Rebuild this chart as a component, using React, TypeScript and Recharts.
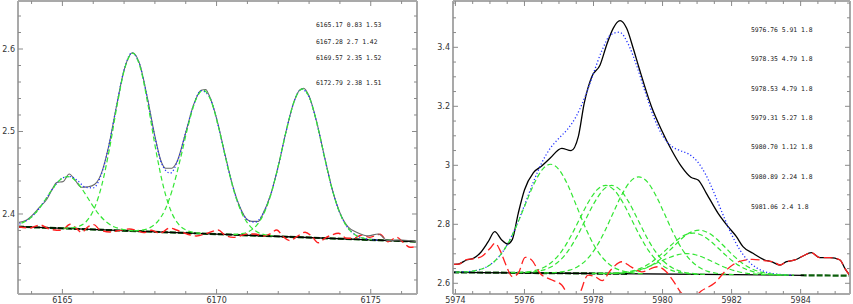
import React from 'react';
import { LineChart, Line, XAxis, YAxis } from 'recharts';

type P = [number, number | null];
const toPts = (a: P[]) => a.map(([x, y]) => ({ x, y }));

// ---------- left panel (6163-6177) ----------
const leftXTicks = [6164, 6165, 6166, 6167, 6168, 6169, 6170, 6171, 6172, 6173, 6174, 6175, 6176];
const leftXLabels = [6165, 6170, 6175];
const leftYTicks = [2.32, 2.34, 2.36, 2.38, 2.4, 2.42, 2.44, 2.46, 2.48, 2.5, 2.52, 2.54, 2.56, 2.58, 2.6, 2.62, 2.64];
const leftYLabels = [2.4, 2.5, 2.6];
const leftNotes = ['6165.17 0.83 1.53', '6167.28 2.7 1.42', '6169.57 2.35 1.52', '6172.79 2.38 1.51'];

const leftObserved: P[] = [
  [6163.56, 2.3895], [6163.84, 2.3927], [6164.27, 2.4085], [6164.49, 2.4175], [6164.7, 2.432],
  [6164.81, 2.438], [6165.03, 2.4395], [6165.22, 2.4485], [6165.41, 2.441], [6165.62, 2.4324],
  [6165.84, 2.433], [6166.05, 2.436], [6166.25, 2.448], [6166.5, 2.482], [6166.75, 2.53],
  [6167.0, 2.5745], [6167.28, 2.5955], [6167.5, 2.5825], [6167.75, 2.542], [6168.0, 2.4945],
  [6168.2, 2.464], [6168.35, 2.4555], [6168.55, 2.4555], [6168.7, 2.462], [6169.0, 2.499],
  [6169.25, 2.532], [6169.5, 2.55], [6169.65, 2.551], [6169.75, 2.5445], [6170.0, 2.516],
  [6170.25, 2.476], [6170.5, 2.4375], [6170.75, 2.409], [6171.0, 2.393], [6171.15, 2.391],
  [6171.35, 2.391], [6171.5, 2.4], [6171.75, 2.423], [6172.0, 2.458], [6172.25, 2.4995],
  [6172.5, 2.535], [6172.7, 2.5505], [6172.82, 2.5525], [6173.0, 2.543], [6173.25, 2.511],
  [6173.5, 2.4695], [6173.75, 2.43], [6174.0, 2.4015], [6174.27, 2.384], [6174.59, 2.377],
  [6174.92, 2.3735], [6175.24, 2.3758], [6175.56, 2.3677], [6176.0, 2.3685], [6176.5, 2.3664],
];

const leftFit: P[] = [
  [6163.5, 2.387], [6163.75, 2.3901], [6164.0, 2.3965], [6164.25, 2.4068], [6164.5, 2.4203],
  [6164.75, 2.434], [6165.0, 2.4437], [6165.25, 2.4454], [6165.5, 2.4401], [6165.75, 2.4324],
  [6166.0, 2.4317], [6166.25, 2.4468], [6166.5, 2.4816], [6166.75, 2.5299], [6167.0, 2.5745],
  [6167.25, 2.5951], [6167.5, 2.5818], [6167.75, 2.541], [6168.0, 2.493], [6168.25, 2.4585],
  [6168.5, 2.4495], [6168.75, 2.4659], [6169.0, 2.4985], [6169.25, 2.5314], [6169.5, 2.5496],
  [6169.75, 2.5433], [6170.0, 2.515], [6170.25, 2.475], [6170.5, 2.4367], [6170.75, 2.4083],
  [6171.0, 2.3929], [6171.25, 2.3901], [6171.5, 2.3999], [6171.75, 2.4227], [6172.0, 2.4578],
  [6172.25, 2.4992], [6172.5, 2.5348], [6172.75, 2.5514], [6173.0, 2.5421], [6173.25, 2.5106],
  [6173.5, 2.4689], [6173.75, 2.4297], [6174.0, 2.401], [6174.25, 2.3835], [6174.5, 2.3747],
  [6174.75, 2.3707], [6175.0, 2.3691], [6175.25, 2.3683],
];

const leftComp1: P[] = [
  [6163.42, 2.3865], [6163.67, 2.3888], [6163.92, 2.394], [6164.17, 2.403], [6164.42, 2.4158],
  [6164.67, 2.4299], [6164.92, 2.4412], [6165.17, 2.4453], [6165.42, 2.4405], [6165.67, 2.4285],
  [6165.92, 2.4137], [6166.17, 2.4002], [6166.42, 2.3905], [6166.67, 2.3846], [6166.92, 2.3816],
  [6167.17, 2.3801], [6167.42, 2.3794],
];
const leftComp2: P[] = [
  [6165.03, 2.3827], [6165.28, 2.3831], [6165.53, 2.385], [6165.78, 2.3912], [6166.03, 2.4063],
  [6166.28, 2.4353], [6166.53, 2.4797], [6166.78, 2.5329], [6167.03, 2.5775], [6167.28, 2.5949],
  [6167.53, 2.5768], [6167.78, 2.5315], [6168.03, 2.4776], [6168.28, 2.4325], [6168.53, 2.4028],
  [6168.78, 2.387], [6169.03, 2.3801], [6169.28, 2.3775], [6169.53, 2.3764],
];
const leftComp3: P[] = [
  [6167.32, 2.3797], [6167.57, 2.3804], [6167.82, 2.383], [6168.07, 2.39], [6168.32, 2.4045],
  [6168.57, 2.43], [6168.82, 2.4658], [6169.07, 2.5057], [6169.32, 2.538], [6169.57, 2.5502],
  [6169.82, 2.5373], [6170.07, 2.5043], [6170.32, 2.4637], [6170.57, 2.4272], [6170.82, 2.401],
  [6171.07, 2.3858], [6171.32, 2.3781], [6171.57, 2.3748], [6171.82, 2.3734],
];
const leftComp4: P[] = [
  [6170.54, 2.3752], [6170.79, 2.376], [6171.04, 2.3786], [6171.29, 2.3859], [6171.54, 2.4009],
  [6171.79, 2.4273], [6172.04, 2.4643], [6172.29, 2.5056], [6172.54, 2.539], [6172.79, 2.5517],
  [6173.04, 2.5383], [6173.29, 2.5042], [6173.54, 2.4622], [6173.79, 2.4245], [6174.04, 2.3974],
  [6174.29, 2.3817], [6174.54, 2.3737], [6174.79, 2.3704], [6175.04, 2.3689],
];

const leftResidual: P[] = [
  [6163.57, 2.3846], [6163.95, 2.383], [6164.27, 2.3867], [6164.6, 2.3815], [6164.98, 2.3802],
  [6165.25, 2.3875], [6165.46, 2.3822], [6165.62, 2.3778], [6165.84, 2.3846], [6166.02, 2.3871],
  [6166.22, 2.3806], [6166.54, 2.3782], [6166.87, 2.3802], [6167.17, 2.3818], [6167.41, 2.3802],
  [6167.64, 2.3774], [6167.89, 2.3802], [6168.16, 2.3766], [6168.49, 2.383], [6168.7, 2.3806],
  [6169.03, 2.3758], [6169.35, 2.3733], [6169.62, 2.3758], [6169.84, 2.3786], [6170.05, 2.3806],
  [6170.27, 2.3745], [6170.54, 2.3717], [6170.76, 2.3733], [6170.97, 2.3758], [6171.24, 2.3758],
  [6171.51, 2.3733], [6171.73, 2.3758], [6171.95, 2.3806], [6172.16, 2.3725], [6172.38, 2.3677],
  [6172.6, 2.3725], [6172.87, 2.3778], [6173.08, 2.3733], [6173.3, 2.3652], [6173.51, 2.3705],
  [6173.73, 2.3745], [6173.95, 2.3766], [6174.22, 2.3705], [6174.44, 2.3705], [6174.71, 2.3745],
  [6174.97, 2.3717], [6175.3, 2.3754], [6175.56, 2.3664], [6175.84, 2.3717], [6176.05, 2.3657],
  [6176.27, 2.3596], [6176.5, 2.3604],
];

const leftContinuum: P[] = [[6163.56, 2.3846], [6176.5, 2.3665]];
const leftDarkGreen: P[] = [[6163.56, 2.3846], [6176.5, 2.3665]];

// ---------- right panel (5974-5985) ----------
const rightXTicks = [5974, 5974.5, 5975, 5975.5, 5976, 5976.5, 5977, 5977.5, 5978, 5978.5, 5979, 5979.5,
  5980, 5980.5, 5981, 5981.5, 5982, 5982.5, 5983, 5983.5, 5984, 5984.5, 5985];
const rightXLabels = [5974, 5976, 5978, 5980, 5982, 5984];
const rightYTicks = [2.6, 2.65, 2.7, 2.75, 2.8, 2.85, 2.9, 2.95, 3, 3.05, 3.1, 3.15, 3.2, 3.25, 3.3, 3.35,
  3.4, 3.45, 3.5, 3.55];
const rightYLabels = [2.6, 2.8, 3, 3.2, 3.4];
const rightNotes = ['5976.76 5.91 1.8', '5978.35 4.79 1.8', '5978.53 4.79 1.8', '5979.31 5.27 1.8',
  '5980.70 1.12 1.8', '5980.89 2.24 1.8', '5981.06 2.4 1.8'];

const rightObserved: P[] = [
  [5973.94, 2.6644], [5974.08, 2.665], [5974.32, 2.679], [5974.52, 2.6847], [5974.71, 2.7017],
  [5974.95, 2.741], [5975.14, 2.775], [5975.34, 2.7468], [5975.51, 2.7332], [5975.65, 2.749],
  [5975.82, 2.8373], [5976.0, 2.9163], [5976.26, 2.975], [5976.5, 2.9976], [5976.74, 3.0237],
  [5977.08, 3.0576], [5977.35, 3.0495], [5977.56, 3.097], [5977.73, 3.2102], [5977.95, 3.3003],
  [5978.19, 3.34], [5978.38, 3.4078], [5978.57, 3.4644], [5978.77, 3.4902], [5978.96, 3.4644],
  [5979.15, 3.3966], [5979.32, 3.33], [5979.68, 3.1986], [5979.97, 3.1197], [5980.26, 3.0519],
  [5980.55, 2.9953], [5980.82, 2.9593], [5981.03, 2.9502], [5981.27, 2.9051], [5981.61, 2.8373],
  [5981.9, 2.7919], [5982.14, 2.758], [5982.33, 2.7241], [5982.62, 2.7017], [5982.96, 2.679],
  [5983.15, 2.6732], [5983.4, 2.662], [5983.59, 2.6732], [5983.83, 2.679], [5984.07, 2.6925],
  [5984.31, 2.7037], [5984.56, 2.6868], [5984.85, 2.6868], [5985.14, 2.679], [5985.28, 2.6508],
  [5985.43, 2.6258],
];

const rightFit: P[] = [
  [5974.0, 2.6378], [5974.25, 2.6387], [5974.5, 2.6414], [5974.75, 2.6481], [5975.0, 2.6622],
  [5975.25, 2.6884], [5975.5, 2.7308], [5975.75, 2.7909], [5976.0, 2.864], [5976.25, 2.9408],
  [5976.5, 3.0083], [5976.75, 3.058], [5977.0, 3.092], [5977.25, 3.1227], [5977.5, 3.1662],
  [5977.75, 3.2312], [5978.0, 3.3121], [5978.25, 3.3908], [5978.5, 3.4426], [5978.75, 3.4512],
  [5979.0, 3.4125], [5979.25, 3.3378], [5979.5, 3.2472], [5979.75, 3.1624], [5980.0, 3.1006],
  [5980.25, 3.0657], [5980.5, 3.0503], [5980.75, 3.0384], [5981.0, 3.014], [5981.25, 2.9686],
  [5981.5, 2.9046], [5981.75, 2.8328], [5982.0, 2.7655], [5982.25, 2.7115], [5982.5, 2.6737],
  [5982.75, 2.6506], [5983.0, 2.6381], [5983.25, 2.632], [5983.5, 2.6291], [5983.75, 2.6279],
];

const rightComp1: P[] = [
  [5974.01, 2.6378], [5974.26, 2.6387], [5974.51, 2.6415], [5974.76, 2.6485], [5975.01, 2.663],
  [5975.26, 2.6899], [5975.51, 2.7324], [5975.76, 2.7923], [5976.01, 2.8632], [5976.26, 2.9328],
  [5976.51, 2.9845], [5976.76, 3.0035], [5977.01, 2.984], [5977.26, 2.9318], [5977.51, 2.8617],
  [5977.76, 2.7903], [5978.01, 2.7299], [5978.26, 2.6869], [5978.51, 2.6595], [5978.76, 2.6445],
  [5979.01, 2.637], [5979.26, 2.6337], [5979.51, 2.6323],
];
const rightComp2: P[] = [
  [5975.6, 2.636], [5975.85, 2.6368], [5976.1, 2.639], [5976.35, 2.6446], [5976.6, 2.6563],
  [5976.85, 2.6781], [5977.1, 2.7124], [5977.35, 2.761], [5977.6, 2.8184], [5977.85, 2.8747],
  [5978.1, 2.9166], [5978.35, 2.9319], [5978.6, 2.9161], [5978.85, 2.8737], [5979.1, 2.8169],
  [5979.35, 2.759], [5979.6, 2.7099], [5979.85, 2.6751], [5980.1, 2.6528], [5980.35, 2.6406],
  [5980.6, 2.6345], [5980.85, 2.6318], [5981.1, 2.6305],
];
const rightComp3: P[] = [
  [5975.78, 2.6359], [5976.03, 2.6366], [5976.28, 2.6389], [5976.53, 2.6444], [5976.78, 2.6562],
  [5977.03, 2.6779], [5977.28, 2.7123], [5977.53, 2.7608], [5977.78, 2.8183], [5978.03, 2.8745],
  [5978.28, 2.9165], [5978.53, 2.9317], [5978.78, 2.916], [5979.03, 2.8735], [5979.28, 2.8168],
  [5979.53, 2.7588], [5979.78, 2.7098], [5980.03, 2.6749], [5980.28, 2.6527], [5980.53, 2.6404],
  [5980.78, 2.6344], [5981.03, 2.6316], [5981.28, 2.6304],
];
const rightComp4: P[] = [
  [5976.56, 2.6352], [5976.81, 2.6359], [5977.06, 2.6385], [5977.31, 2.6446], [5977.56, 2.6576],
  [5977.81, 2.6814], [5978.06, 2.7194], [5978.31, 2.7727], [5978.56, 2.836], [5978.81, 2.8979],
  [5979.06, 2.9441], [5979.31, 2.9609], [5979.56, 2.9436], [5979.81, 2.8969], [5980.06, 2.8345],
  [5980.31, 2.7707], [5980.56, 2.7169], [5980.81, 2.6784], [5981.06, 2.6541], [5981.31, 2.6406],
  [5981.56, 2.634], [5981.81, 2.6309], [5982.06, 2.6297],
];
const rightComp5: P[] = [
  [5977.95, 2.6334], [5978.2, 2.6333], [5978.45, 2.6337], [5978.7, 2.6348], [5978.95, 2.6374],
  [5979.2, 2.6422], [5979.45, 2.6501], [5979.7, 2.6613], [5979.95, 2.6746], [5980.2, 2.6875],
  [5980.45, 2.6972], [5980.7, 2.7005], [5980.95, 2.6967], [5981.2, 2.6865], [5981.45, 2.6731],
  [5981.7, 2.6593], [5981.95, 2.6476], [5982.2, 2.6392], [5982.45, 2.6339], [5982.7, 2.6308],
  [5982.95, 2.6292], [5983.2, 2.6283], [5983.45, 2.6279],
];
const rightComp6: P[] = [
  [5978.14, 2.6333], [5978.39, 2.6335], [5978.64, 2.6344], [5978.89, 2.6369], [5979.14, 2.6423],
  [5979.39, 2.6522], [5979.64, 2.6683], [5979.89, 2.6908], [5980.14, 2.7176], [5980.39, 2.7438],
  [5980.64, 2.7633], [5980.89, 2.7703], [5981.14, 2.7628], [5981.39, 2.7428], [5981.64, 2.7161],
  [5981.89, 2.6888], [5982.14, 2.6658], [5982.39, 2.6492], [5982.64, 2.6388], [5982.89, 2.6329],
  [5983.14, 2.6299], [5983.39, 2.6285], [5983.64, 2.6278],
];
const rightComp7: P[] = [
  [5978.31, 2.6331], [5978.56, 2.6334], [5978.81, 2.6344], [5979.06, 2.6371], [5979.31, 2.6428],
  [5979.56, 2.6536], [5979.81, 2.6707], [5980.06, 2.695], [5980.31, 2.7236], [5980.56, 2.7518],
  [5980.81, 2.7726], [5981.06, 2.7802], [5981.31, 2.7721], [5981.56, 2.7508], [5981.81, 2.7221],
  [5982.06, 2.693], [5982.31, 2.6682], [5982.56, 2.6506], [5982.81, 2.6393], [5983.06, 2.6331],
  [5983.31, 2.6299], [5983.56, 2.6284], [5983.81, 2.6276],
];

const rightResidual: P[] = [
  [5973.94, 2.6644], [5974.1, 2.665], [5974.3, 2.679], [5974.5, 2.683], [5974.75, 2.69],
  [5975.0, 2.718], [5975.15, 2.736], [5975.3, 2.71], [5975.45, 2.666], [5975.65, 2.623],
  [5975.82, 2.634], [5976.02, 2.688], [5976.2, 2.68], [5976.45, 2.634], [5976.8, 2.611],
  [5977.08, 2.594], [5977.25, 2.562], [5977.42, 2.535], [5977.6, 2.565], [5977.84, 2.628],
  [5978.05, 2.622], [5978.25, 2.609], [5978.5, 2.645], [5978.82, 2.673], [5979.1, 2.655],
  [5979.4, 2.639], [5979.85, 2.656], [5980.1, 2.64], [5980.3, 2.61], [5980.55, 2.566],
  [5980.85, 2.548], [5981.12, 2.574], [5981.5, 2.6], [5981.85, 2.645], [5982.2, 2.673],
  [5982.6, 2.681], [5982.95, 2.677], [5983.25, 2.671], [5983.4, 2.662], [5983.59, 2.6732],
  [5983.83, 2.679], [5984.07, 2.6925], [5984.31, 2.7037], [5984.56, 2.6868], [5984.85, 2.6868],
  [5985.14, 2.679], [5985.28, 2.6508], [5985.43, 2.6258],
];

const rightContinuum: P[] = [[5973.93, 2.6373], [5984.1, 2.6271]];
const rightDarkGreen: P[] = [[5973.93, 2.6373], [5979.0, 2.6322], [5981.5, null], [5984.0, 2.6272], [5985.43, 2.6258]];

// ---------- styling ----------
const FRAME = '#a9a9a9';
const TICK = '#8a8a8a';
const LABEL = '#333';
const FONT = 'DejaVu Sans, sans-serif';
const MONO = 'DejaVu Sans Mono, monospace';
const GREEN = '#33e633';
const DARK_GREEN = '#0b5e0b';
const BLUE = '#2030ff';
const RED = '#ff2020';

const bottomTick = (labels: number[]) => (props: any) => {
  const { x, y, payload } = props;
  const major = labels.includes(payload.value);
  return (
    <g>
      <line x1={x} x2={x} y1={y} y2={y - (major ? 5 : 3)} stroke={TICK} />
      {major && (
        <text x={x} y={y + 8.5} textAnchor="middle" fontSize={8} fill={LABEL} fontFamily={FONT}>
          {payload.value}
        </text>
      )}
    </g>
  );
};

const topTick = (labels: number[]) => (props: any) => {
  const { x, y, payload } = props;
  const major = labels.includes(payload.value);
  return <line x1={x} x2={x} y1={y} y2={y + (major ? 5 : 3)} stroke={TICK} />;
};

const leftTick = (labels: number[]) => (props: any) => {
  const { x, y, payload } = props;
  const major = labels.includes(payload.value);
  return (
    <g>
      <line x1={x} x2={x + (major ? 5 : 3)} y1={y} y2={y} stroke={TICK} />
      {major && (
        <text x={x - 3} y={y + 3} textAnchor="end" fontSize={8} fill={LABEL} fontFamily={FONT}>
          {String(payload.value)}
        </text>
      )}
    </g>
  );
};

const rightTick = (labels: number[]) => (props: any) => {
  const { x, y, payload } = props;
  const major = labels.includes(payload.value);
  return <line x1={x} x2={x - (major ? 5 : 3)} y1={y} y2={y} stroke={TICK} />;
};

const frameLine = { stroke: FRAME, strokeWidth: 2 };

const line = (key: string, data: P[], stroke: string, width: number, dash?: string, type: any = 'monotone') => (
  <Line
    key={key}
    data={toPts(data)}
    dataKey="y"
    type={type}
    stroke={stroke}
    strokeWidth={width}
    strokeDasharray={dash}
    dot={false}
    activeDot={false}
    isAnimationActive={false}
  />
);

interface PanelProps {
  width: number;
  marginRight: number;
  yAxisWidth: number;
  xDomain: [number, number];
  yDomain: [number, number];
  xTicks: number[];
  xLabels: number[];
  yTicks: number[];
  yLabels: number[];
  series: React.ReactNode[];
}

const Panel: React.FC<PanelProps> = (p) => (
  <LineChart width={p.width} height={304} margin={{ top: 0, right: p.marginRight, bottom: 0, left: 0 }}>
    <XAxis
      dataKey="x"
      type="number"
      domain={p.xDomain}
      allowDataOverflow
      ticks={p.xTicks}
      interval={0}
      tickLine={false}
      tickSize={0}
      tickMargin={0}
      height={10}
      axisLine={frameLine}
      tick={bottomTick(p.xLabels)}
    />
    <XAxis
      xAxisId="top"
      orientation="top"
      dataKey="x"
      type="number"
      domain={p.xDomain}
      allowDataOverflow
      ticks={p.xTicks}
      interval={0}
      tickLine={false}
      tickSize={0}
      tickMargin={0}
      height={1}
      axisLine={frameLine}
      tick={topTick(p.xLabels)}
    />
    <YAxis
      type="number"
      domain={p.yDomain}
      allowDataOverflow
      ticks={p.yTicks}
      interval={0}
      tickLine={false}
      tickSize={0}
      tickMargin={0}
      width={p.yAxisWidth}
      axisLine={frameLine}
      tick={leftTick(p.yLabels)}
    />
    <YAxis
      yAxisId="r"
      orientation="right"
      type="number"
      domain={p.yDomain}
      allowDataOverflow
      ticks={p.yTicks}
      interval={0}
      tickLine={false}
      tickSize={0}
      tickMargin={0}
      width={1}
      axisLine={frameLine}
      tick={rightTick(p.yLabels)}
    />
    {p.series}
  </LineChart>
);

const leftSeries = [
  line('dg', leftDarkGreen, DARK_GREEN, 2.2, '6 2', 'linear'),
  line('cont', leftContinuum, '#000', 1.3, undefined, 'linear'),
  line('res', leftResidual, RED, 1.4, '8 4'),
  line('obs', leftObserved, '#6a6a6a', 1.1),
  line('fit', leftFit, BLUE, 1.3, '1.2 2.2'),
  line('c1', leftComp1, GREEN, 1.2, '5 3'),
  line('c2', leftComp2, GREEN, 1.2, '5 3'),
  line('c3', leftComp3, GREEN, 1.2, '5 3'),
  line('c4', leftComp4, GREEN, 1.2, '5 3'),
];

const rightSeries = [
  line('dg', rightDarkGreen, DARK_GREEN, 2.2, '6 2', 'linear'),
  line('cont', rightContinuum, '#000', 1.3, undefined, 'linear'),
  line('obs', rightObserved, '#000', 1.3),
  line('fit', rightFit, BLUE, 1.3, '1.2 2.2'),
  line('c1', rightComp1, GREEN, 1.2, '5 3'),
  line('c2', rightComp2, GREEN, 1.2, '5 3'),
  line('c3', rightComp3, GREEN, 1.2, '5 3'),
  line('c4', rightComp4, GREEN, 1.2, '5 3'),
  line('c5', rightComp5, GREEN, 1.2, '5 3'),
  line('c6', rightComp6, GREEN, 1.2, '5 3'),
  line('c7', rightComp7, GREEN, 1.2, '5 3'),
  line('res', rightResidual, RED, 1.3, '9 4'),
];

const leftNoteY = [24.3, 41.3, 57.3, 82.3];
const rightNoteY = [29.3, 59, 88.7, 117.7, 147, 176.3, 206.3];

export default function App() {
  return (
    <div style={{ position: 'absolute', left: 0, top: 0, width: 853, height: 304, background: '#fff' }}>
      <div style={{ position: 'absolute', left: 0, top: 0 }}>
        <Panel
          width={425}
          marginRight={7}
          yAxisWidth={18}
          xDomain={[6163.56, 6176.5]}
          yDomain={[2.303, 2.6582]}
          xTicks={leftXTicks}
          xLabels={leftXLabels}
          yTicks={leftYTicks}
          yLabels={leftYLabels}
          series={leftSeries}
        />
      </div>
      <div style={{ position: 'absolute', left: 425, top: 0 }}>
        <Panel
          width={428}
          marginRight={2}
          yAxisWidth={28}
          xDomain={[5973.93, 5985.43]}
          yDomain={[2.5637, 3.557]}
          xTicks={rightXTicks}
          xLabels={rightXLabels}
          yTicks={rightYTicks}
          yLabels={rightYLabels}
          series={rightSeries}
        />
      </div>
      <svg width={853} height={304} style={{ position: 'absolute', left: 0, top: 0, pointerEvents: 'none' }}>
        {leftNotes.map((t, i) => (
          <text key={t} x={316} y={leftNoteY[i] + 2.3} fontSize={6.4} fill="#222" fontFamily={MONO}>
            {t}
          </text>
        ))}
        {rightNotes.map((t, i) => (
          <text key={t} x={751} y={rightNoteY[i] + 2.3} fontSize={6.4} fill="#222" fontFamily={MONO}>
            {t}
          </text>
        ))}
      </svg>
    </div>
  );
}
